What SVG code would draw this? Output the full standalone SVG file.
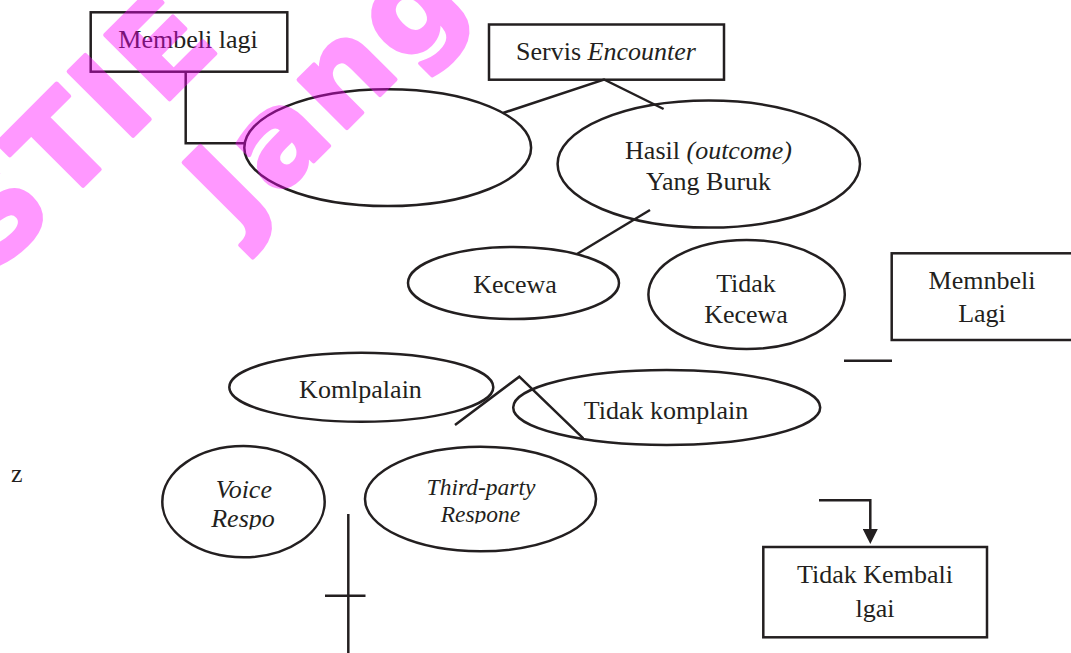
<svg xmlns="http://www.w3.org/2000/svg" width="1071" height="653" viewBox="0 0 1071 653">
<style>
  .shape { fill: none; stroke: #231f20; stroke-width: 2.5; }
  .ln { fill: none; stroke: #231f20; stroke-width: 2.5; }
  .t { font-family: "Liberation Serif", "Times New Roman", serif; font-size: 26px; fill: #231f20; text-anchor: middle; }
  .it { font-style: italic; }
  .sm { font-size: 23.5px; }
  .wm { font-family: "DejaVu Sans", sans-serif; font-weight: bold; font-size: 125px; fill: #ff00ff; stroke: #ff00ff; stroke-width: 4; stroke-linejoin: round; letter-spacing: 5px; }
</style>
<defs>
  <marker id="ah" viewBox="0 0 15 15" refX="6" refY="7.5" markerWidth="15" markerHeight="15" markerUnits="userSpaceOnUse" orient="auto">
    <path d="M0,0 L15,7.5 L0,15 z" fill="#231f20"/>
  </marker>
  <clipPath id="clipVoice" clipPathUnits="userSpaceOnUse"><rect x="150" y="440" width="200" height="89.5"/></clipPath>
  <clipPath id="clipThird" clipPathUnits="userSpaceOnUse"><rect x="360" y="440" width="240" height="83.5"/></clipPath>
</defs>
<rect width="1071" height="653" fill="#ffffff"/>

<g id="connectors">
  <polyline class="ln" points="185.7,72 185.7,143.3 245,143.3"/>
  <polyline class="ln" points="503,113 604,79.5 663.6,109"/>
  <line class="ln" x1="650" y1="210" x2="577" y2="254"/>
  <polyline class="ln" points="455,425 519.3,376.7 583.3,438.3"/>
  <line class="ln" x1="844" y1="360.7" x2="892" y2="360.7"/>
  <line class="ln" x1="348.3" y1="514" x2="348.3" y2="653"/>
  <line class="ln" x1="325" y1="595.7" x2="365.5" y2="595.7"/>
  <path class="ln" d="M819,500.3 H870.3 V535" marker-end="url(#ah)"/>
</g>

<g id="node-membeli-lagi">
  <rect class="shape" x="90.7" y="12.3" width="196.6" height="59.4"/>
  <text class="t" x="188" y="48">Membeli lagi</text>
</g>

<g id="node-servis-encounter">
  <rect class="shape" x="489" y="24.5" width="235" height="55.2"/>
  <text class="t" x="606" y="60">Servis <tspan class="it">Encounter</tspan></text>
</g>

<g id="node-empty">
  <ellipse class="shape" cx="387.7" cy="147.7" rx="143.4" ry="58.4"/>
</g>

<g id="node-hasil">
  <ellipse class="shape" cx="708.8" cy="164.1" rx="151.2" ry="63.5"/>
  <text class="t" x="708.5" y="158.5">Hasil <tspan class="it">(outcome)</tspan></text>
  <text class="t" x="708.5" y="189.6">Yang Buruk</text>
</g>

<g id="node-kecewa">
  <ellipse class="shape" cx="513.5" cy="283" rx="105.5" ry="36"/>
  <text class="t" x="515" y="292.5">Kecewa</text>
</g>

<g id="node-tidak-kecewa">
  <ellipse class="shape" cx="746.6" cy="294.5" rx="98.2" ry="54.5"/>
  <text class="t" x="746" y="291.8">Tidak</text>
  <text class="t" x="746" y="323">Kecewa</text>
</g>

<g id="node-memnbeli-lagi">
  <rect class="shape" x="891.7" y="253.3" width="190" height="86.7"/>
  <text class="t" x="982" y="289">Memnbeli</text>
  <text class="t" x="982" y="321.7">Lagi</text>
</g>

<g id="node-komplain">
  <ellipse class="shape" cx="361.3" cy="387.2" rx="132" ry="34.5"/>
  <text class="t" x="360.5" y="398">Komlpalain</text>
</g>

<g id="node-tidak-komplain">
  <ellipse class="shape" cx="666.7" cy="407.5" rx="153.5" ry="37.5"/>
  <text class="t" x="666" y="418.5">Tidak komplain</text>
</g>

<g id="node-z">
  <text class="t" x="11" y="482" style="text-anchor:start">z</text>
</g>

<g id="node-voice">
  <ellipse class="shape" cx="243.5" cy="501.7" rx="81.2" ry="55.6"/>
  <text class="t it" x="243.8" y="498.3">Voice</text>
  <text class="t it" x="243" y="527.3" clip-path="url(#clipVoice)">Respo</text>
</g>

<g id="node-third-party">
  <ellipse class="shape" cx="480.5" cy="499" rx="115.5" ry="52.3"/>
  <text class="t it sm" x="481" y="495">Third-party</text>
  <text class="t it sm" x="480.5" y="521.7" clip-path="url(#clipThird)">Respone</text>
</g>

<g id="node-tidak-kembali">
  <rect class="shape" x="763.3" y="547" width="223.7" height="90.3"/>
  <text class="t" x="875" y="582.7">Tidak Kembali</text>
  <text class="t" x="875" y="616.7">lgai</text>
</g>

<g id="watermark" opacity="0.4">
  <text class="wm" transform="translate(-6,275) rotate(-45)">STIE</text>
  <text class="wm" transform="translate(240,235) rotate(-45)">Jang</text>
</g>
</svg>
